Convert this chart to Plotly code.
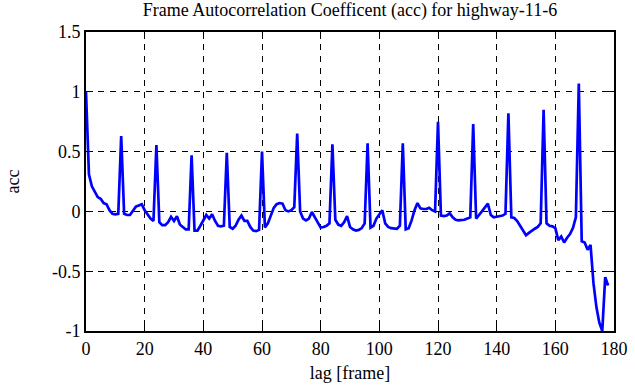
import plotly.graph_objects as go

lags = list(range(0, 179))
acc = [
    1.00, 0.31, 0.21, 0.16, 0.12, 0.105, 0.07, 0.06, 0.01, -0.02,
    -0.025, -0.02, 0.63, -0.02, -0.03, -0.03, 0.0, 0.04, 0.05, 0.06,
    0.01, -0.03, -0.06, -0.08, 0.555, -0.09, -0.115, -0.115, -0.09, -0.045,
    -0.08, -0.04, -0.11, -0.13, -0.15, -0.15, 0.47, -0.16, -0.16, -0.12,
    -0.07, -0.03, -0.06, -0.025, -0.08, -0.12, -0.125, -0.12, 0.49, -0.13,
    -0.145, -0.12, -0.07, -0.035, -0.08, -0.08, -0.13, -0.16, -0.165, -0.155,
    0.50, -0.135, -0.10, -0.04, 0.03, 0.06, 0.07, 0.065, 0.01, 0.0,
    0.01, 0.035, 0.65, 0.0, -0.06, -0.075, -0.06, -0.005, -0.05, -0.09,
    -0.135, -0.13, -0.12, -0.10, 0.56, -0.07, -0.11, -0.12, -0.09, -0.04,
    -0.13, -0.15, -0.16, -0.155, -0.14, -0.10, 0.57, -0.135, -0.12, -0.06,
    -0.02, 0.01, -0.10, -0.13, -0.14, -0.145, -0.145, -0.12, 0.57, -0.15,
    -0.14, -0.075, 0.01, 0.07, 0.025, 0.02, 0.02, 0.03, 0.01, 0.0,
    0.75, -0.035, -0.04, -0.035, -0.015, -0.05, -0.07, -0.075, -0.075, -0.07,
    -0.06, -0.05, 0.73, -0.06, -0.03, 0.0, 0.035, 0.065, -0.03, -0.05,
    -0.045, -0.04, -0.035, -0.02, 0.82, -0.05, -0.055, -0.08, -0.12, -0.16,
    -0.20, -0.18, -0.16, -0.145, -0.13, -0.10, 0.85, -0.10, -0.12, -0.125,
    -0.14, -0.24, -0.21, -0.26, -0.22, -0.19, -0.14, -0.05, 1.07, -0.25,
    -0.26, -0.32, -0.28, -0.60, -0.80, -0.93, -1.00, -0.55, -0.62,
]

x_ticks = [0, 20, 40, 60, 80, 100, 120, 140, 160, 180]
y_ticks = [-1, -0.5, 0, 0.5, 1, 1.5]
y_tick_text = ["-1", "-0.5", "0", "0.5", "1", "1.5"]

FONT = "Liberation Serif, Times New Roman, serif"

fig = go.Figure(
    go.Scatter(x=lags, y=acc, mode="lines",
               line=dict(color="#0000ff", width=2.7), showlegend=False)
)

axis_common = dict(
    showline=True, linecolor="black", linewidth=2, mirror="ticks",
    ticks="inside", ticklen=7, tickwidth=1, tickcolor="black",
    showgrid=True, gridcolor="black", gridwidth=1, griddash="6px,6px",
    zeroline=False, automargin=False,
    tickfont=dict(family=FONT, size=18, color="black"),
)

fig.update_xaxes(range=[0, 180], tickvals=x_ticks, ticktext=[str(v) for v in x_ticks],
                 title=dict(text="lag [frame]", font=dict(family=FONT, size=18, color="black"), standoff=9),
                 **axis_common)
fig.update_yaxes(range=[-1, 1.5], tickvals=y_ticks, ticktext=y_tick_text,
                 title=dict(text="acc", font=dict(family=FONT, size=18, color="black"), standoff=28),
                 **axis_common)

fig.update_layout(
    width=635, height=387,
    margin=dict(l=86, r=21, t=32, b=56, autoexpand=False),
    paper_bgcolor="white", plot_bgcolor="white",
    title=dict(text="Frame Autocorrelation Coefficent (acc) for highway-11-6",
               font=dict(family=FONT, size=18, color="black"),
               x=0.5, xanchor="center", xref="paper", y=0.975, yanchor="middle", yref="container"),
)

fig.write_html("out.html", config={"displayModeBar": False},
               post_script="document.body.style.margin='0';")
